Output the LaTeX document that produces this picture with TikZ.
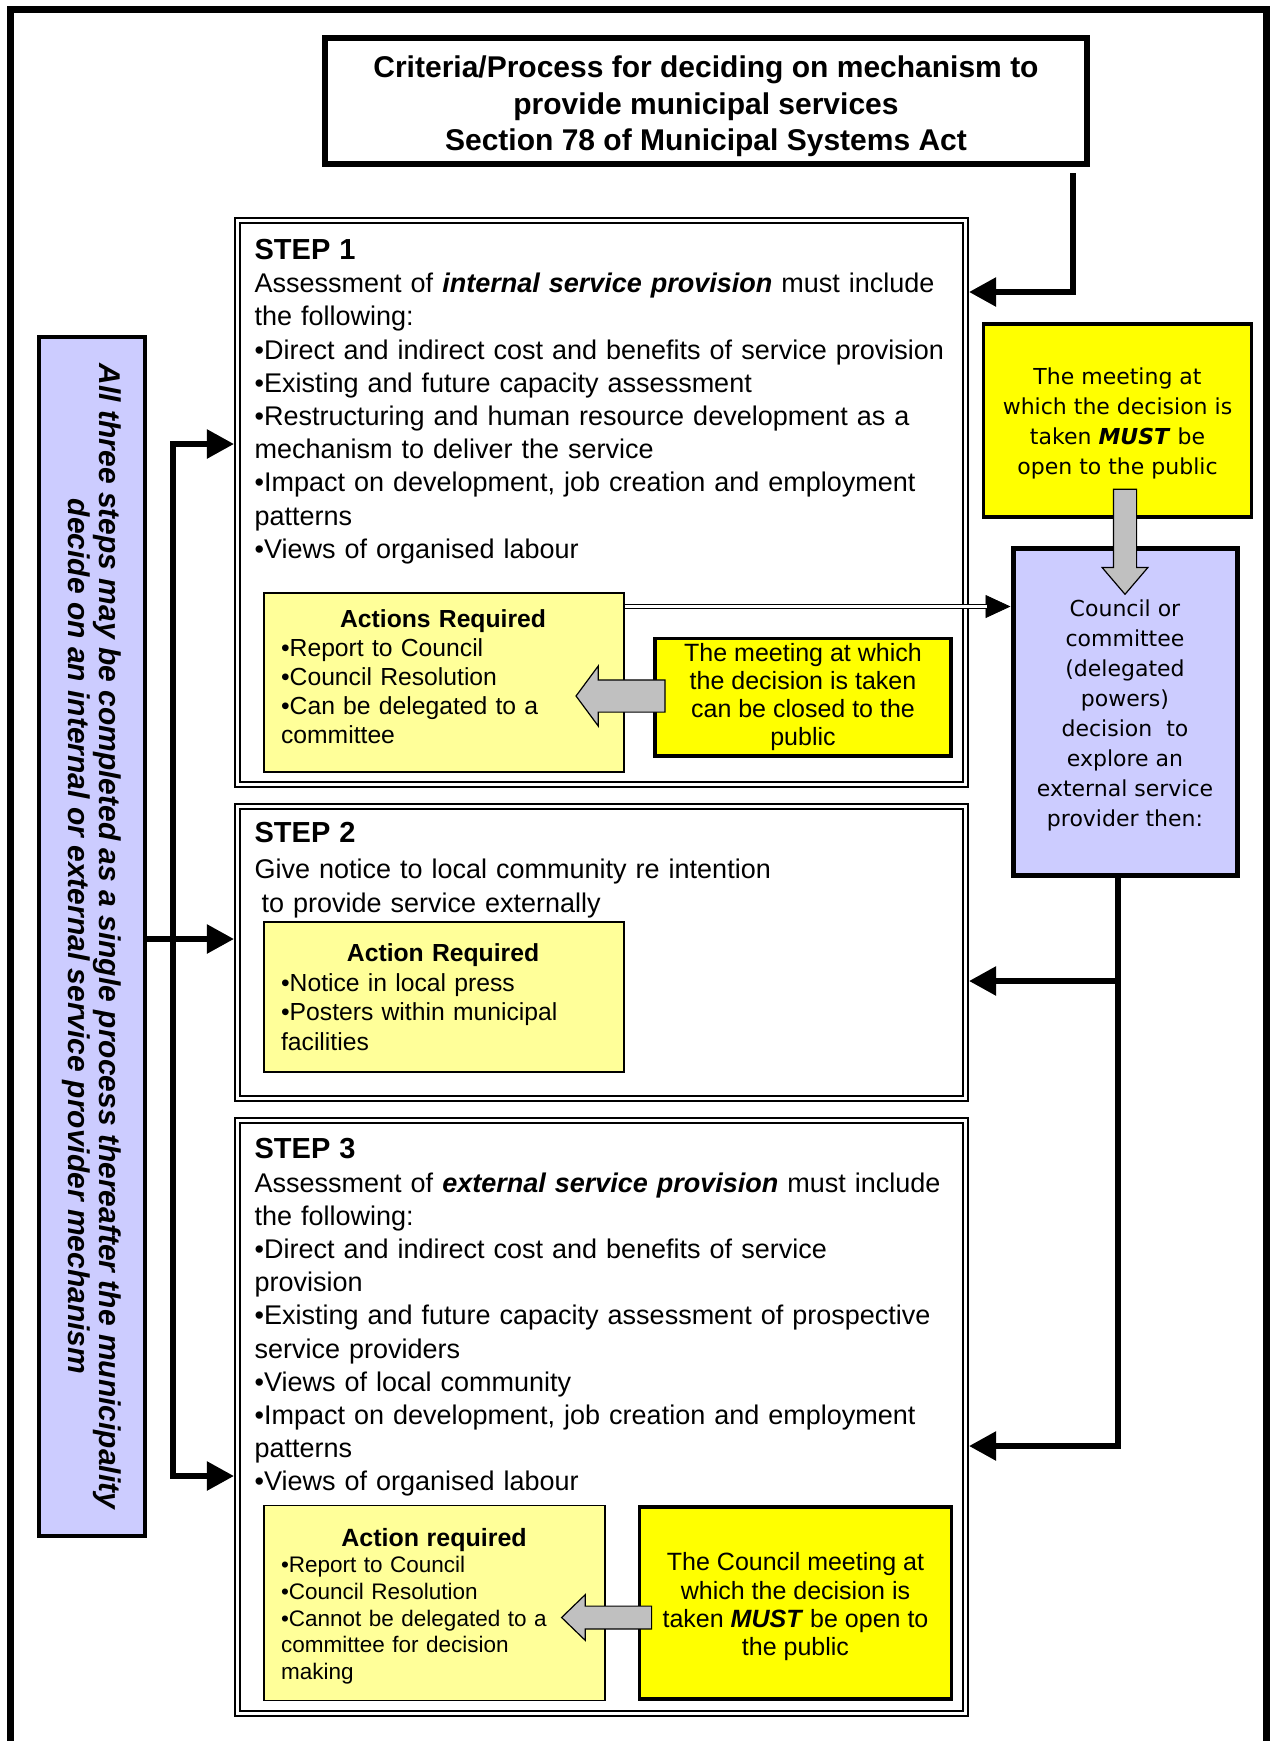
\documentclass[tikz,border=0pt]{standalone}
\usepackage{fontspec}
\setmainfont{Liberation Sans}
\newfontfamily\dvfont{DejaVu Sans}[ItalicFont={DejaVu Sans Oblique},BoldItalicFont={DejaVu Sans Bold Oblique}]
\usetikzlibrary{
arrows.meta,
positioning,
shapes.arrows
}
\definecolor{paleyel}{HTML}{FFFF99}
\definecolor{brightyel}{HTML}{FFFF00}
\definecolor{lavender}{HTML}{CCCCFF}
\definecolor{arrgrey}{HTML}{C0C0C0}
\tikzset{>={Triangle[length=27pt,width=28pt]}}

\begin{document}
\begin{tikzpicture}[x=1pt, y=-1pt,
		titlebox/.style={draw, line width=6.5pt, inner sep=0pt, align=center, font=\fontsize{30}{36.5}\selectfont\bfseries},
		stepbox/.style={draw, double, line width=1.8pt, double distance=3.5pt, outer sep=3.55pt, inner sep=0pt},
		steptext/.style={align=left, text width=705pt, inner sep=0pt, font=\fontsize{27}{33.2}\selectfont},
		actbox/.style={draw, line width=1.3pt, fill=paleyel, inner sep=0pt},
		acttext/.style={align=left, inner sep=0pt, font=\fontsize{24.7}{29}\selectfont},
		notebox/.style={draw, line width=3.5pt, fill=brightyel, inner sep=0pt, align=center, font=\fontsize{25}{28.3}\selectfont},
		dvbox/.style={draw, inner sep=0pt, align=center, font=\dvfont\fontsize{22}{30}\selectfont},
		barbox/.style={draw, line width=4pt, fill=lavender, inner sep=0pt},
		bartext/.style={align=center, inner sep=0pt, font=\fontsize{30}{30.5}\selectfont\bfseries\itshape},
		blockarr/.style={single arrow, draw, line width=1.2pt, fill=arrgrey, inner xsep=0pt},
		conn/.style={line width=5.5pt},
		dbl/.style={double, line width=1.2pt, double distance=2.8pt}]
		\path[fill=white, use as bounding box] (0,0) rectangle (1270,1741);
		\draw[line width=7pt] (10.5,1760) -- (10.5,9.5) -- (1266.5,9.5) -- (1266.5,1760);

		\node[titlebox, minimum width=762pt, minimum height=126pt] (title) at (706,101) {\rule{0pt}{33pt}Criteria/Process for deciding on mechanism to\\provide municipal services\\Section 78 of Municipal Systems Act};

		\node[stepbox, minimum width=728pt, minimum height=564pt] (stepone) at (601.5,502.5) {};
		\node[stepbox, minimum width=728pt, minimum height=292pt] (steptwo) at (601.5,952.5) {};
		\node[stepbox, minimum width=728pt, minimum height=593pt] (stepthree) at (601.5,1417) {};

		\node[steptext, below right=22pt and 20.5pt of stepone.north west] (steponetxt) {{\fontsize{29}{33.2}\selectfont\bfseries STEP 1}\\
			Assessment of \textbf{\textit{internal service provision}} must include\\
			the following:\\
			•Direct and indirect cost and benefits of service provision\\
			•Existing and future capacity assessment\\
			•Restructuring and human resource development as a\\
			mechanism to deliver the service\\
			•Impact on development, job creation and employment\\
			patterns\\
			•Views of organised labour};
		\node[steptext, below right=19.3pt and 20.5pt of steptwo.north west] (steptwotxt) {{\fontsize{29}{33.2}\selectfont\bfseries STEP 2}\\[3pt]
			Give notice to local community re intention\\
			\hspace*{7pt}to provide service externally};
		\node[steptext, below right=21.5pt and 20.5pt of stepthree.north west] (stepthreetxt) {{\fontsize{29}{33.2}\selectfont\bfseries STEP 3}\\
			Assessment of \textbf{\textit{external service provision}} must include\\
			the following:\\
			•Direct and indirect cost  and benefits of service\\
			provision\\
			•Existing and future capacity assessment of prospective\\
			service providers\\
			•Views of local community\\
			•Impact on development, job creation and employment\\
			patterns\\
			•Views of organised labour};

		% action boxes
		\node[actbox, minimum width=360pt, minimum height=179pt] (actone) at (444,682.5) {};
		\node[acttext, text width=324pt, below right=17.3pt and 17.5pt of actone.north west] (actonetxt) {\makebox[\hsize]{\bfseries Actions Required}\\
			•Report to Council\\•Council Resolution\\•Can be delegated to a\\committee};
		\node[actbox, minimum width=360pt, minimum height=150pt] (acttwo) at (444,997) {};
		\node[acttext, text width=324pt, font=\fontsize{24.7}{29.5}\selectfont, below right=22.3pt and 17.5pt of acttwo.north west] (acttwotxt) {\makebox[\hsize]{\bfseries Action Required}\\
			•Notice in local press\\•Posters within municipal\\facilities};
		\node[actbox, minimum width=341pt, minimum height=194.5pt] (actthree) at (434.5,1603) {};
		\node[acttext, text width=306pt, font=\fontsize{22.5}{26.7}\selectfont, below right=22.7pt and 17.5pt of actthree.north west] (actthreetxt) {\makebox[\hsize]{\fontsize{25}{26.7}\selectfont\bfseries Action required}\\
			•Report to Council\\•Council Resolution\\•Cannot be delegated to a\\committee for decision\\making};

		% meeting notes
		\node[notebox, minimum width=296pt, minimum height=117.5pt] (closedone) at (803,697) {The meeting at which\\the decision is taken\\can be closed to the\\public};
		\node[notebox, minimum width=312pt, minimum height=192pt] (openthree) at (795.5,1603) {\rule{0pt}{25.5pt}The Council meeting at\\which the decision is\\taken \textbf{\textit{MUST}} be open to\\the public};
		\node[dvbox, line width=3.3pt, fill=brightyel, minimum width=268pt, minimum height=193pt] (opennote) at (1117.5,420.5) {\rule{0pt}{23pt}The meeting at\\which the decision is\\taken \textbf{\textit{MUST}} be\\open to the public};
		\node[dvbox, line width=5pt, fill=lavender, minimum width=224pt, minimum height=327.5pt] (council) at (1125,712) {\rule{0pt}{24pt}Council or\\committee\\(delegated\\powers)\\decision\ \ to\\explore an\\external service\\provider then:};

		% side bar
		\node[barbox, minimum width=106pt, minimum height=1199pt] (sidebar) at (92,936.5) {};
		\node[bartext, rotate=-90] (sidebartxt) at (sidebar.center) {All three steps may be completed as a single process thereafter the municipality\\decide on an internal or external service provider mechanism};

		% title to step 1
		\coordinate (titledrop) at (1073,173);
		\coordinate (titlein) at (1073,292);
		\draw[conn, ->] (titledrop) -- (titlein) -- (stepone.east |- titlein);

		% bracket on the left
		\coordinate (bracktop) at (173,444);
		\coordinate (barmid) at (173,939);
		\coordinate (brackbot) at (173,1476);
		\draw[conn, <->] (stepone.west |- bracktop) -- (bracktop) -- (brackbot) -- (stepthree.west |- brackbot);
		\draw[conn, ->] (sidebar.east |- barmid) -- (steptwo.west |- barmid);

		% council decision to steps 2 and 3
		\coordinate (rtwo) at (1118,981);
		\coordinate (rthree) at (1118,1446);
		\draw[conn, ->] (council.south -| rthree) -- (rthree) -- (stepthree.east |- rthree);
		\draw[conn, ->] (rtwo) -- (steptwo.east |- rtwo);

		% actions to council
		\coordinate (dblline) at (0,606.5);
		\draw[->, >={Triangle[length=25pt,width=23pt]}, line width=0.8pt] (actone.east |- dblline) -- (council.west |- dblline);
		\draw[dbl, shorten >=24pt] (actone.east |- dblline) -- (council.west |- dblline);

		% grey block arrows
		\node[blockarr, rotate=-90, minimum height=105pt, inner ysep=11pt, single arrow head extend=11.3pt, single arrow tip angle=81] (downarr) at (1125,535) {};
		\node[blockarr, rotate=180, minimum height=89pt, inner ysep=15.5pt, single arrow head extend=14pt, single arrow tip angle=107] (leftone) at (626.5,696) {};
		\node[blockarr, rotate=180, minimum height=90pt, inner ysep=10.8pt, single arrow head extend=11.5pt, single arrow tip angle=88] (leftthree) at (612.5,1617.5) {};
\end{tikzpicture}
\end{document}
